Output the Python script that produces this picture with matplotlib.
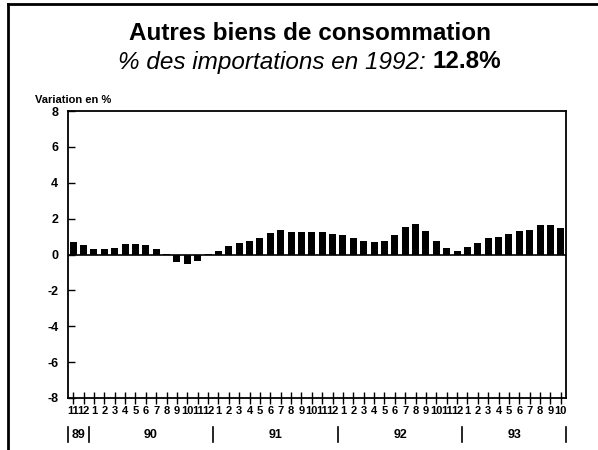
"""Autres biens de consommation: variation mensuelle en %, nov. 1989 - oct. 1993."""
import matplotlib
matplotlib.use("Agg")
import matplotlib.pyplot as plt
import matplotlib.transforms as mtransforms
from matplotlib.lines import Line2D
import numpy as np

plt.rcParams["font.family"] = ["Liberation Sans", "DejaVu Sans"]
plt.rcParams["axes.unicode_minus"] = False

# ---------------------------------------------------------------------------
# Données (48 mois : nov 89 -> oct 93)
# ---------------------------------------------------------------------------
months = [11, 12] + list(range(1, 13)) * 3 + list(range(1, 11))
values = [
    0.72, 0.54,                                                    # nov - déc 89
    0.31, 0.30, 0.38, 0.59, 0.60, 0.55, 0.30, 0.04, -0.42, -0.55, -0.38, 0.03,  # 90
    0.20, 0.46, 0.62, 0.76, 0.94, 1.19, 1.34, 1.28, 1.23, 1.23, 1.27, 1.17,     # 91
    1.08, 0.92, 0.75, 0.68, 0.77, 1.10, 1.54, 1.69, 1.32, 0.75, 0.35, 0.18,     # 92
    0.44, 0.64, 0.92, 1.00, 1.17, 1.30, 1.39, 1.67, 1.67, 1.47,                 # jan - oct 93
]
years = ["89", "90", "91", "92", "93"]
year_centers = [0.5, 7.5, 19.5, 31.5, 42.5]
year_bounds = [-0.5, 1.5, 13.5, 25.5, 37.5, 47.5]
yticks = [8, 6, 4, 2, 0, -2, -4, -6, -8]

x = np.arange(len(months))

# ---------------------------------------------------------------------------
# Figure
# ---------------------------------------------------------------------------
fig = plt.figure(figsize=(5.98, 4.5), dpi=100)
ax = fig.add_axes([68 / 598, 1 - 398 / 450, (566 - 68) / 598, (398 - 111) / 450])

ax.bar(x, values, width=0.68, color="black", edgecolor="none")
ax.axhline(0.0, color="black", linewidth=1.2)

ax.set_xlim(-0.5, len(months) - 0.5)
ax.set_ylim(-8, 8)
ax.set_yticks(yticks)
ax.set_yticklabels([str(v) for v in yticks], fontsize=9, fontweight="bold")
ax.set_xticks(x)
ax.set_xticklabels([str(m) for m in months], fontsize=8, fontweight="bold")
ax.tick_params(axis="y", direction="in", length=5, width=1, pad=7)
ax.tick_params(axis="x", direction="inout", length=9, width=1, pad=1)
for s in ax.spines.values():
    s.set_linewidth(1.3)

# Années sous les mois, avec séparateurs
trans = mtransforms.blended_transform_factory(ax.transData, ax.transAxes)
for lab, xc in zip(years, year_centers):
    ax.text(xc, -0.13, lab, transform=trans, ha="center", va="center",
            fontsize=9, fontweight="bold")
for xb in year_bounds:
    ax.add_line(Line2D([xb, xb], [-0.1, -0.152], transform=trans, color="black",
                       linewidth=1.2, clip_on=False))

# ---------------------------------------------------------------------------
# Titres
# ---------------------------------------------------------------------------
fig.text(0.518, 1 - 33 / 450, "Autres biens de consommation", ha="center", va="center",
         fontsize=17.5, fontweight="bold")

renderer = fig.canvas.get_renderer()
part1 = "% des importations en 1992: "
part2 = "12.8%"
t1 = fig.text(0, 0, part1, fontsize=17.5, style="italic")
t2 = fig.text(0, 0, part2, fontsize=17.5, fontweight="bold")
w1 = t1.get_window_extent(renderer).width / fig.bbox.width
w2 = t2.get_window_extent(renderer).width / fig.bbox.width
x0 = 0.518 - (w1 + w2) / 2
ysub = 1 - 62 / 450
t1.set_position((x0, ysub))
t1.set_va("center")
t2.set_position((x0 + w1, ysub))
t2.set_va("center")

fig.text(35 / 598, 1 - 100 / 450, "Variation en %", ha="left", va="center",
         fontsize=8, fontweight="bold")

# Cadre de la page (haut et gauche)
fig.add_artist(Line2D([8 / 598, 1.0], [1 - 4 / 450, 1 - 4 / 450],
                      transform=fig.transFigure, color="black", linewidth=2))
fig.add_artist(Line2D([8 / 598, 8 / 598], [0.0, 1 - 4 / 450],
                      transform=fig.transFigure, color="black", linewidth=2))

fig.savefig("out.png", dpi=100)
plt.close(fig)
